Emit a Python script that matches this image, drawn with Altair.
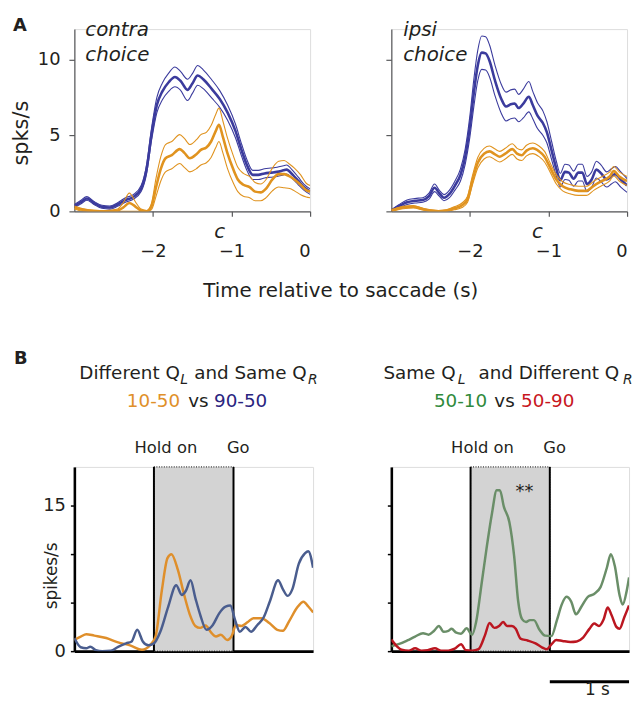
import altair as alt
import pandas as pd

FONT = "DejaVu Sans"
INK = "#231f20"

# ---------------- Panel A : contra choice ----------------
ac_blue_t = [-3.0, -2.92, -2.84, -2.75, -2.65, -2.55, -2.45, -2.35, -2.25, -2.15, -2.08, -2.02, -1.95, -1.88,
             -1.8, -1.72, -1.65, -1.56, -1.5, -1.43, -1.36, -1.25, -1.15, -1.05, -0.95, -0.87, -0.8, -0.73,
             -0.66, -0.58, -0.5, -0.42, -0.34, -0.3, -0.22, -0.15, -0.08, 0.0]
ac_blue_mean = [0.35, 0.6, 0.85, 0.55, 0.3, 0.25, 0.45, 0.75, 0.95, 1.5, 2.8, 5.0, 7.0, 7.9, 8.5, 8.85, 8.6,
                8.0, 8.4, 8.95, 8.7, 8.05, 7.4, 6.5, 5.3, 4.0, 3.0, 2.4, 2.4, 2.5, 2.55, 2.6, 2.7, 2.75, 2.4,
                2.0, 1.6, 1.3]
ac_blue_sem = [0.1, 0.12, 0.12, 0.1, 0.1, 0.1, 0.12, 0.15, 0.15, 0.2, 0.3, 0.4, 0.5, 0.55, 0.6, 0.65, 0.62,
               0.7, 0.65, 0.65, 0.62, 0.6, 0.55, 0.5, 0.45, 0.4, 0.35, 0.3, 0.3, 0.3, 0.3, 0.3, 0.3, 0.3,
               0.28, 0.25, 0.2, 0.18]

ac_orange_t = [-3.0, -2.9, -2.75, -2.6, -2.45, -2.38, -2.3, -2.22, -2.15, -2.08, -2.02, -1.96, -1.9, -1.84,
               -1.76, -1.66, -1.6, -1.53, -1.45, -1.39, -1.32, -1.26, -1.2, -1.16, -1.11, -1.05, -0.98,
               -0.92, -0.85, -0.77, -0.7, -0.63, -0.56, -0.48, -0.4, -0.33, -0.26, -0.2, -0.12, -0.05, 0.0]
ac_orange_mean = [0.25, 0.1, 0.02, 0.0, 0.05, 0.25, 0.55, 0.3, 0.05, 0.0, 0.3, 1.6, 2.8, 3.5, 3.7, 4.1,
                  3.85, 3.5, 3.75, 4.05, 4.2, 4.6, 5.3, 5.7, 4.9, 3.8, 2.8, 2.1, 1.75, 1.6, 1.3, 1.25, 1.5,
                  2.1, 2.45, 2.45, 2.3, 2.1, 1.75, 1.4, 1.3]
ac_orange_sem = [0.1, 0.08, 0.05, 0.05, 0.1, 0.3, 0.65, 0.3, 0.1, 0.05, 0.2, 0.6, 0.8, 0.9, 0.9, 0.95,
                 0.95, 0.9, 0.95, 1.0, 1.0, 1.05, 1.1, 1.1, 1.05, 1.0, 0.9, 0.8, 0.75, 0.7, 0.6, 0.55, 0.6,
                 0.75, 0.85, 0.9, 0.8, 0.75, 0.65, 0.45, 0.4]

# ---------------- Panel A : ipsi choice ----------------
ai_blue_t = [-3.0, -2.9, -2.8, -2.7, -2.6, -2.52, -2.45, -2.39, -2.33, -2.26, -2.19, -2.12, -2.06, -2.0,
             -1.95, -1.9, -1.85, -1.8, -1.75, -1.68, -1.6, -1.54, -1.48, -1.43, -1.38, -1.32, -1.25, -1.2,
             -1.14, -1.07, -1.02, -0.96, -0.9, -0.85, -0.79, -0.74, -0.68, -0.62, -0.57, -0.51, -0.45,
             -0.39, -0.33, -0.26, -0.2, -0.15, -0.08, 0.0]
ai_blue_mean = [0.05, 0.35, 0.6, 0.7, 0.75, 1.0, 1.55, 1.2, 0.9, 1.15, 1.7, 2.4, 3.6, 5.6, 7.8, 9.6, 10.45,
                10.4, 9.9, 8.6, 7.4, 6.9, 7.05, 7.1, 6.8, 7.1, 7.55, 7.0, 6.3, 5.8, 5.2, 4.0, 2.8, 2.05,
                2.6, 2.55, 2.15, 2.55, 2.55, 1.8, 2.1, 2.75, 2.5, 2.1, 2.3, 2.45, 2.1, 1.7]
ai_blue_sem = [0.05, 0.1, 0.15, 0.15, 0.15, 0.2, 0.25, 0.2, 0.2, 0.25, 0.3, 0.4, 0.5, 0.7, 0.9, 1.0, 1.1,
               1.1, 1.05, 1.0, 0.95, 0.95, 0.95, 0.95, 0.9, 0.95, 1.0, 0.9, 0.85, 0.8, 0.7, 0.6, 0.5, 0.45,
               0.5, 0.5, 0.5, 0.55, 0.55, 0.5, 0.5, 0.55, 0.55, 0.5, 0.5, 0.5, 0.5, 0.45]

ai_orange_t = [-3.0, -2.85, -2.72, -2.6, -2.5, -2.4, -2.3, -2.2, -2.1, -2.03, -1.97, -1.9, -1.82, -1.75,
               -1.68, -1.62, -1.55, -1.46, -1.4, -1.34, -1.28, -1.2, -1.12, -1.05, -0.98, -0.9, -0.82,
               -0.72, -0.62, -0.52, -0.42, -0.32, -0.22, -0.17, -0.1, 0.0]
ai_orange_mean = [0.05, 0.25, 0.3, 0.15, 0.05, 0.0, 0.05, 0.2, 0.4, 0.8, 2.0, 3.2, 3.8, 3.95, 3.75, 3.6,
                  3.8, 4.1, 3.8, 3.7, 4.0, 4.15, 3.95, 3.6, 2.9, 2.1, 1.65, 1.45, 1.35, 1.35, 1.7, 2.0, 2.3,
                  2.65, 2.3, 2.0]
ai_orange_sem = [0.05, 0.08, 0.08, 0.05, 0.05, 0.05, 0.05, 0.1, 0.15, 0.2, 0.3, 0.35, 0.35, 0.35, 0.35,
                 0.35, 0.35, 0.35, 0.35, 0.35, 0.35, 0.35, 0.35, 0.35, 0.3, 0.3, 0.3, 0.3, 0.3, 0.3, 0.3,
                 0.3, 0.3, 0.3, 0.3, 0.3]

# ---------------- Panel B : different Q_L, same Q_R ----------------
b1_orange_t = [0.0, 0.08, 0.15, 0.25, 0.4, 0.55, 0.7, 0.85, 0.95, 1.02, 1.1, 1.17, 1.22, 1.3, 1.38, 1.45,
               1.52, 1.58, 1.65, 1.72, 1.78, 1.84, 1.92, 1.98, 2.03, 2.1, 2.18, 2.25, 2.35, 2.45, 2.55,
               2.62, 2.7, 2.8, 2.88, 2.94, 3.0]
b1_orange_v = [1.15, 1.5, 1.75, 1.6, 1.35, 0.9, 0.6, 0.15, 0.6, 1.5, 6.3, 9.6, 10.0, 8.4, 5.8, 3.8, 2.6,
               2.4, 2.65, 1.9, 1.5, 1.7, 1.15, 1.6, 2.7, 2.6, 3.0, 3.4, 3.4, 2.9, 2.2, 2.1, 3.1, 4.5, 5.1,
               4.6, 4.0]
b1_blue_t = [0.0, 0.08, 0.15, 0.2, 0.27, 0.35, 0.46, 0.55, 0.65, 0.72, 0.79, 0.86, 0.93, 1.0, 1.08, 1.18,
             1.28, 1.35, 1.4, 1.46, 1.52, 1.58, 1.66, 1.74, 1.82, 1.9, 1.96, 2.02, 2.08, 2.15, 2.22, 2.3,
             2.38, 2.46, 2.56, 2.62, 2.68, 2.74, 2.82, 2.9, 2.94, 3.0]
b1_blue_v = [1.35, 0.4, 0.3, 0.45, 0.1, 0.0, 0.05, 0.45, 0.8, 1.0, 2.2, 1.0, 0.6, 0.8, 2.0, 4.6, 6.8, 5.8,
             6.2, 7.3, 5.5, 3.8, 2.2, 2.7, 3.9, 4.6, 4.7, 3.2, 2.0, 2.5, 2.0, 2.7, 3.5, 5.2, 7.3, 6.4, 5.7,
             6.4, 9.0, 10.1, 10.3, 8.6]

# ---------------- Panel B : same Q_L, different Q_R ----------------
b2_green_t = [0.0, 0.1, 0.2, 0.3, 0.4, 0.47, 0.54, 0.6, 0.66, 0.72, 0.76, 0.82, 0.88, 0.95, 1.02, 1.07,
              1.14, 1.2, 1.27, 1.33, 1.37, 1.42, 1.49, 1.55, 1.6, 1.65, 1.7, 1.75, 1.8, 1.87, 1.94, 2.02,
              2.09, 2.15, 2.21, 2.27, 2.33, 2.4, 2.48, 2.56, 2.64, 2.72, 2.77, 2.82, 2.88, 2.92, 2.97, 3.0]
b2_green_v = [0.5, 0.75, 1.1, 1.5, 1.85, 1.7, 2.1, 2.6, 2.0, 2.1, 2.3, 1.9, 1.8, 2.35, 1.7, 3.0, 7.0, 10.5,
              14.2, 16.6, 16.6, 14.9, 13.3, 9.8, 5.2, 3.3, 3.0, 3.2, 3.2, 2.2, 1.6, 1.55, 3.2, 4.8, 5.6,
              5.1, 3.8, 4.6, 5.6, 5.9, 6.6, 8.6, 10.0, 8.8, 5.8, 4.8, 6.2, 7.6]
b2_red_t = [0.0, 0.07, 0.13, 0.22, 0.3, 0.38, 0.46, 0.55, 0.63, 0.72, 0.8, 0.88, 0.94, 1.02, 1.1, 1.18,
            1.24, 1.3, 1.36, 1.41, 1.46, 1.52, 1.57, 1.63, 1.72, 1.82, 1.9, 1.96, 2.02, 2.08, 2.16, 2.26,
            2.34, 2.42, 2.5, 2.56, 2.62, 2.68, 2.73, 2.78, 2.84, 2.88, 2.94, 3.0]
b2_red_v = [1.2, 0.5, 0.15, 0.05, 0.3, 0.05, 0.1, 0.3, 0.05, 0.05, 0.25, 0.7, 0.1, 0.05, 0.2, 1.6, 2.9,
            2.4, 2.6, 3.0, 2.6, 2.6, 2.3, 1.3, 1.1, 0.8, 0.4, 0.2, 0.7, 1.15, 1.05, 0.95, 1.0, 1.4, 2.3,
            2.85, 2.6, 3.3, 4.5, 3.7, 2.5, 2.3, 3.5, 4.7]

A_BLUE = "#3b3b9d"
A_ORANGE = "#e0931f"
B_ORANGE = "#df8f2b"
B_BLUE = "#4a5d8e"
B_GREEN = "#6a8e68"
B_RED = "#bb1620"
T_ORANGE = "#e0902a"
T_NAVY = "#2a2480"
T_GREEN = "#2f8a3c"
T_RED = "#c8161e"

one = pd.DataFrame({"k": [0]})


def txt(text, x, y, size=18, color=INK, weight="normal", style="normal",
        align="left", baseline="alphabetic", angle=0):
    return alt.Chart(one).mark_text(
        text=text, font=FONT, fontSize=size, fontWeight=weight, fontStyle=style,
        color=color, align=align, baseline=baseline, angle=angle
    ).encode(x=alt.value(x), y=alt.value(y))


def dtxt(text, t, y, xs, xax, size=18, color=INK, weight="normal", style="normal",
         align="center", baseline="alphabetic"):
    return alt.Chart(pd.DataFrame({"t": [t]})).mark_text(
        text=text, font=FONT, fontSize=size, fontWeight=weight, fontStyle=style,
        color=color, align=align, baseline=baseline
    ).encode(x=alt.X("t:Q", scale=xs, axis=xax), y=alt.value(y))


def band_df(t, m, e):
    rows = []
    for ti, mi, ei in zip(t, m, e):
        rows.append({"t": ti, "v": mi, "kind": "mean"})
        rows.append({"t": ti, "v": mi + ei, "kind": "upper"})
        rows.append({"t": ti, "v": max(mi - ei, 0.0), "kind": "lower"})
    return pd.DataFrame(rows)


A_W, A_H = 238, 184
B1_W, B2_W, B_H = 241, 240, 186


def panel_a(blue, orange, show_labels, extras):
    xs = alt.Scale(domain=[-3, 0], nice=False, zero=False)
    ys = alt.Scale(domain=[0, 12], nice=False)
    xax = alt.Axis(values=[-2, -1, 0], title=None, grid=False, tickSize=5, labelPadding=27,
                   domainColor="#58595b", tickColor="#58595b", domainWidth=1.2, tickWidth=1.2,
                   labelFont=FONT, labelFontSize=18, labelColor=INK)
    yax = alt.Axis(values=[0, 5, 10], title=None, grid=False, tickSize=5.5, labelPadding=9,
                   labels=show_labels, domainColor="#58595b", tickColor="#58595b",
                   domainWidth=1.2, tickWidth=1.2, labelFont=FONT, labelFontSize=18, labelColor=INK)
    layers = []
    for df, col in [(blue, A_BLUE), (orange, A_ORANGE)]:
        layers.append(alt.Chart(df[df["kind"] != "mean"]).mark_line(
            color=col, strokeWidth=1.1, interpolate="monotone", clip=True
        ).encode(x=alt.X("t:Q", scale=xs, axis=xax), y=alt.Y("v:Q", scale=ys, axis=yax),
                 detail="kind:N"))
        layers.append(alt.Chart(df[df["kind"] == "mean"]).mark_line(
            color=col, strokeWidth=2.6, interpolate="monotone", clip=True
        ).encode(x=alt.X("t:Q", scale=xs, axis=xax), y=alt.Y("v:Q", scale=ys, axis=yax)))
    layers += extras(xs, xax)
    return alt.layer(*layers).properties(width=A_W, height=A_H)


def panel_b(s1, s2, width, show_labels, extras):
    xs = alt.Scale(domain=[0, 3], nice=False, zero=False)
    ys = alt.Scale(domain=[0, 19], nice=False)
    xax = alt.Axis(title=None, grid=False, ticks=False, labels=False, domainColor="black",
                   domainWidth=2.6)
    yax = alt.Axis(values=[0, 5, 10, 15], title=None, grid=False, tickSize=4, labelPadding=5,
                   labels=show_labels,
                   labelExpr="datum.value == 0 || datum.value == 15 ? datum.label : ''",
                   domainColor="black", tickColor="black", domainWidth=2.6, tickWidth=1.5,
                   labelFont=FONT, labelFontSize=18, labelColor=INK)
    box = alt.Chart(pd.DataFrame({"t0": [1.0], "t1": [2.0]})).mark_rect(
        fill="#d3d3d3", stroke="black", strokeWidth=1, strokeDash=[1, 1.5]
    ).encode(x=alt.X("t0:Q", scale=xs, axis=xax), x2="t1:Q", y=alt.value(0), y2=alt.value(B_H))
    edges = alt.Chart(pd.DataFrame({"t": [1.0, 2.0]})).mark_rule(
        color="black", strokeWidth=2
    ).encode(x=alt.X("t:Q", scale=xs, axis=xax), y=alt.value(0), y2=alt.value(B_H))
    layers = [box, edges]
    for (t, v, col) in (s1, s2):
        layers.append(alt.Chart(pd.DataFrame({"t": t, "v": v})).mark_line(
            color=col, strokeWidth=2.5, interpolate="monotone", clip=True
        ).encode(x=alt.X("t:Q", scale=xs, axis=xax), y=alt.Y("v:Q", scale=ys, axis=yax)))
    layers.append(dtxt("Hold on", 1.15, -14, xs, xax, size=16.5))
    layers.append(dtxt("Go", 2.06, -14, xs, xax, size=16.5))
    layers += extras(xs, xax)
    return alt.layer(*layers).properties(width=width, height=B_H)


def a1_extras(xs, xax):
    return [
        txt("A", -62, 2, size=18, weight="bold"),
        txt("contra", 11, 7, size=20, style="italic"),
        txt("choice", 11, 32, size=20, style="italic"),
        txt("spks/s", -53, 105, size=21, align="center", baseline="middle", angle=270),
        txt("Time relative to saccade (s)", 269, 270, size=20, align="center"),
        dtxt("c", -1.15, 211, xs, xax, size=20, style="italic"),
    ]


def a2_extras(xs, xax):
    return [
        txt("ipsi", 12, 7, size=20, style="italic"),
        txt("choice", 12, 32, size=20, style="italic"),
        dtxt("c", -1.14, 211, xs, xax, size=20, style="italic"),
    ]


def b1_extras(xs, xax):
    return [
        txt("B", -61, -104, size=18, weight="bold"),
        txt("Different Q", 5, -89, size=18.5),
        txt("L", 107, -84, size=14, style="italic"),
        txt("and Same Q", 121, -89, size=18.5),
        txt("R", 236, -84, size=14, style="italic"),
        txt("10-50", 53, -60, size=18.5, color=T_ORANGE),
        txt("vs", 115, -60, size=18.5),
        txt("90-50", 141, -60, size=18.5, color=T_NAVY),
        txt("spikes/s", -23, 110, size=17, align="center", baseline="middle", angle=270),
    ]


def b2_extras(xs, xax):
    bar = alt.Chart(pd.DataFrame({"t0": [2.0], "t1": [3.0]})).mark_rule(
        color="black", strokeWidth=3
    ).encode(x=alt.X("t0:Q", scale=xs, axis=xax), x2="t1:Q", y=alt.value(217))
    return [
        txt("Same Q", -8, -89, size=18.5),
        txt("L", 67, -84, size=14, style="italic"),
        txt("and Different Q", 88, -89, size=18.5),
        txt("R", 234, -84, size=14, style="italic"),
        txt("50-10", 43, -60, size=18.5, color=T_GREEN),
        txt("vs", 104, -60, size=18.5),
        txt("50-90", 131, -60, size=18.5, color=T_RED),
        dtxt("**", 1.68, 30, xs, xax, size=18),
        bar,
        dtxt("1 s", 2.6, 230, xs, xax, size=17),
    ]


a1 = panel_a(band_df(ac_blue_t, ac_blue_mean, ac_blue_sem),
             band_df(ac_orange_t, ac_orange_mean, ac_orange_sem), True, a1_extras)
a2 = panel_a(band_df(ai_blue_t, ai_blue_mean, ai_blue_sem),
             band_df(ai_orange_t, ai_orange_mean, ai_orange_sem), False, a2_extras)
b1 = panel_b((b1_orange_t, b1_orange_v, B_ORANGE), (b1_blue_t, b1_blue_v, B_BLUE), B1_W, True,
             b1_extras)
b2 = panel_b((b2_green_t, b2_green_v, B_GREEN), (b2_red_t, b2_red_v, B_RED), B2_W, False,
             b2_extras)

chart = alt.concat(
    a1, a2, b1, b2, columns=2, spacing={"row": 258, "column": 79}, bounds="flush", align="none"
).properties(
    padding={"left": 2, "top": 5, "right": 0, "bottom": -3}
).configure_view(stroke="transparent").configure(font=FONT)

chart.save("out.html", embed_options={"renderer": "svg", "actions": False})
